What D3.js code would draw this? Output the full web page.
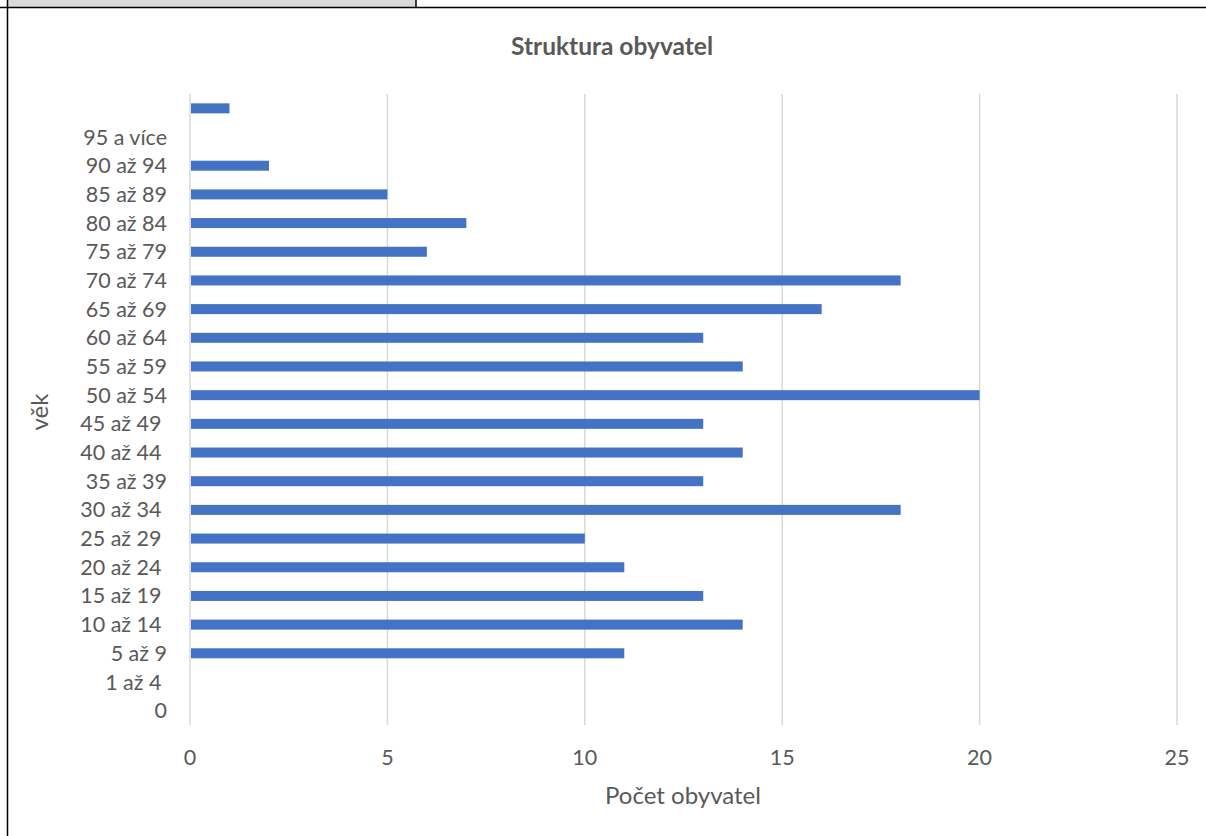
<!DOCTYPE html>
<html><head><meta charset="utf-8">
<script src="https://cdn.jsdelivr.net/npm/d3@7"></script>
<style>
html,body{margin:0;padding:0;background:#fff;}
svg text{white-space:pre;}
</style></head>
<body>
<svg id="c" width="1206" height="836"></svg>
<script>
// Data (bottom to top as in the reference)
const categories = ["0","1 až 4 ","5 až 9","10 až 14 ","15 až 19 ","20 až 24 ","25 až 29 ","30 až 34 ","35 až 39","40 až 44 ","45 až 49 ","50 až 54","55 až 59","60 až 64","65 až 69","70 až 74","75 až 79","80 až 84","85 až 89","90 až 94","95 a více",""];
const values = [0,0,11,14,13,11,10,18,13,14,13,20,14,13,16,18,6,7,5,2,0,1];
const xTicks = [0,5,10,15,20,25];
const chartTitle = "Struktura obyvatel";
const xTitle = "Počet obyvatel";
const yTitle = "věk";

(function(){
const svg = d3.select("#c");
const font = "Lato, 'Open Sans', sans-serif";
const txt = "#595959";

// page frame remnants
svg.append("rect").attr("x",8).attr("y",0).attr("width",408).attr("height",7).attr("fill","#d9d9d9");
svg.append("line").attr("x1",0).attr("x2",1206).attr("y1",7.5).attr("y2",7.5).attr("stroke","#000").attr("stroke-width",1.5);
svg.append("line").attr("x1",7.5).attr("x2",7.5).attr("y1",0).attr("y2",836).attr("stroke","#000").attr("stroke-width",1.5);
svg.append("line").attr("x1",416).attr("x2",416).attr("y1",0).attr("y2",8).attr("stroke","#000").attr("stroke-width",1.5);

const pL = 190, pR = 1177, pT = 94, pB = 725;
const x = d3.scaleLinear().domain([0,25]).range([pL,pR]);
const y = d3.scaleBand().domain(categories.map((c,i)=>i)).range([pB,pT]);

// gridlines
svg.append("g").selectAll("line").data(xTicks).join("line")
  .attr("x1",d=>x(d)).attr("x2",d=>x(d)).attr("y1",pT).attr("y2",pB)
  .attr("stroke","#d9d9d9").attr("stroke-width",1.5);

// bars
const barH = 10;
svg.append("g").selectAll("rect").data(values).join("rect")
  .attr("x",x(0)+1).attr("y",(d,i)=>y(i)+y.bandwidth()/2-barH/2)
  .attr("width",d=>Math.max(0,x(d)-x(0)-1)).attr("height",barH)
  .attr("fill","#4472C4");

// y labels
svg.append("g").selectAll("text").data(categories).join("text")
  .attr("x",167).attr("y",(d,i)=>y(i)+y.bandwidth()/2)
  .attr("dy","0.35em").attr("text-anchor","end")
  .attr("font-family",font).attr("font-size",21.5).attr("fill",txt)
  .text(d=>d);

// x tick labels
svg.append("g").selectAll("text").data(xTicks).join("text")
  .attr("x",d=>x(d)).attr("y",757).attr("dy","0.35em").attr("text-anchor","middle")
  .attr("font-family",font).attr("font-size",21.5).attr("fill",txt)
  .text(d=>d);

// titles
svg.append("text").attr("x",612).attr("y",46).attr("dy","0.35em").attr("text-anchor","middle")
  .attr("font-family",font).attr("font-size",24.5).attr("font-weight","bold").attr("fill",txt).text(chartTitle);
svg.append("text").attr("x",683).attr("y",796).attr("dy","0.35em").attr("text-anchor","middle")
  .attr("font-family",font).attr("font-size",24).attr("fill",txt).text(xTitle);
svg.append("text").attr("transform","translate(40,412) rotate(-90)").attr("dy","0.35em").attr("text-anchor","middle")
  .attr("font-family",font).attr("font-size",24).attr("fill",txt).text(yTitle);
})();
</script>
</body></html>
